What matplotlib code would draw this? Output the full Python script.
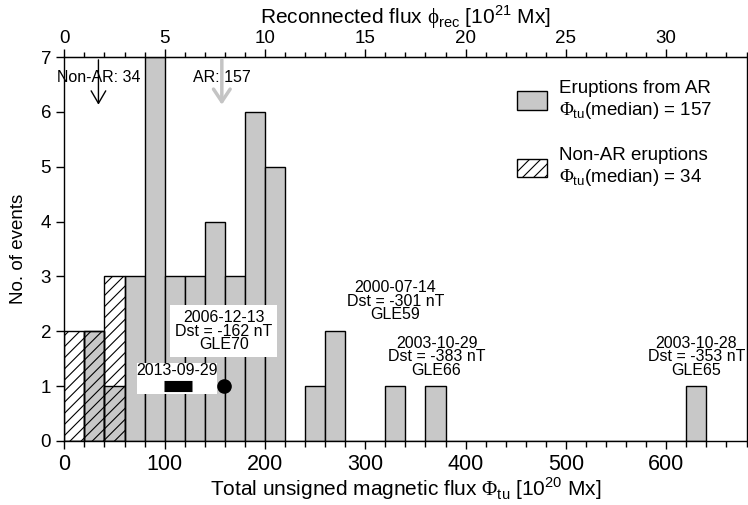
import numpy as np
import matplotlib
matplotlib.use('Agg')
import matplotlib.pyplot as plt
from matplotlib.patches import Patch, Rectangle
from matplotlib.ticker import MultipleLocator

plt.rcParams['font.family'] = ['Liberation Sans', 'DejaVu Sans']
plt.rcParams['mathtext.fontset'] = 'custom'
plt.rcParams['mathtext.rm'] = 'Liberation Serif'
plt.rcParams['mathtext.sf'] = 'Liberation Sans'
plt.rcParams['hatch.linewidth'] = 0.8

# histogram in bins of 20 x 10^20 Mx
bin_width = 20
ar_counts = [0, 2, 1, 3, 7, 3, 3, 4, 3, 6, 5, 0, 1, 2, 0, 0, 1, 0, 1, 0,
             0, 0, 0, 0, 0, 0, 0, 0, 0, 0, 0, 1]
nonar_counts = [2, 2, 3]
ar_median = 157
nonar_median = 34

# labelled events
ev_flux = [159, 330, 371, 630]
ev_text = ['2006-12-13\nDst = -162 nT\nGLE70',
           '2000-07-14\nDst = -301 nT\nGLE59',
           '2003-10-29\nDst = -383 nT\nGLE66',
           '2003-10-28\nDst = -353 nT\nGLE65']
ev_ypos = [2.0, 2.55, 1.53, 1.53]
sep2013_flux = 159
sep2013_range = [99, 127]

fig = plt.figure(figsize=(7.48, 5.05), dpi=100)
ax = fig.add_axes([0.086, 0.127, 0.912, 0.76])

ar_left = np.arange(len(ar_counts)) * bin_width
nonar_left = np.arange(len(nonar_counts)) * bin_width
ax.bar(ar_left, ar_counts, width=bin_width, align='edge', color='#c8c8c8',
       edgecolor='k', linewidth=1, zorder=2)
ax.bar(nonar_left, nonar_counts, width=bin_width, align='edge', fill=False,
       hatch='///', edgecolor='k', linewidth=1, zorder=2)

# median arrows
ax.annotate('', xy=(nonar_median, 6.08), xytext=(nonar_median, 7),
            arrowprops=dict(arrowstyle='->,head_length=0.6,head_width=0.35',
                            color='k', lw=1, mutation_scale=15), zorder=3)
ax.annotate('', xy=(ar_median, 6.08), xytext=(ar_median, 7),
            arrowprops=dict(arrowstyle='->,head_length=0.6,head_width=0.4',
                            color='#c4c4c4', lw=2.5, mutation_scale=15), zorder=3)
ax.text(nonar_median, 6.62, 'Non-AR: 34', fontsize=11.5,
        ha='center', va='center', zorder=4)
ax.text(ar_median, 6.62, 'AR: 157', fontsize=11.5,
        ha='center', va='center', zorder=4)

# event labels
ax.text(ev_flux[0], ev_ypos[0], ev_text[0], fontsize=11.5,
        ha='center', va='center', linespacing=0.88, zorder=4,
        bbox=dict(boxstyle='square,pad=0.3', fc='white', ec='none'))
for x, y, s in zip(ev_flux[1:], ev_ypos[1:], ev_text[1:]):
    ax.text(x, y, s, fontsize=11.5, ha='center', va='center',
            linespacing=0.88, zorder=4)

ax.add_patch(Rectangle((72.6, 0.86), 79.4, 0.56, fc='white', ec='none', zorder=3))
ax.text(112, 1.29, '2013-09-29', fontsize=11.5, ha='center',
        va='center', zorder=4)
ax.plot(sep2013_range, [1, 1], color='k', lw=8, solid_capstyle='butt', zorder=5)
ax.plot([sep2013_flux], [1], 'o', color='k', ms=9.5, zorder=5)

ax.set_xlim(0, 680)
ax.set_ylim(0, 7)
ax.xaxis.set_major_locator(MultipleLocator(100))
ax.xaxis.set_minor_locator(MultipleLocator(20))
ax.yaxis.set_major_locator(MultipleLocator(1))
ax.tick_params(axis='x', which='major', direction='out', length=6, width=1,
               labelsize=15.5, top=False)
ax.tick_params(axis='x', which='minor', direction='out', length=4, width=1, top=False)
ax.tick_params(axis='y', which='major', direction='out', length=6, width=1,
               labelsize=13.5, right=False)
for sp in ax.spines.values():
    sp.set_linewidth(1)

ax.set_xlabel(r'Total unsigned magnetic flux $\Phi_{\mathsf{tu}}$ [10$^{\mathsf{20}}$ Mx]',
              fontsize=15, labelpad=0)
ax.set_ylabel('No. of events', fontsize=13.5, labelpad=10)

top = ax.secondary_xaxis('top', functions=(lambda x: x / 20, lambda x: x * 20))
top.xaxis.set_major_locator(MultipleLocator(5))
top.xaxis.set_minor_locator(MultipleLocator(1))
top.tick_params(which='major', direction='out', length=6, width=1, labelsize=13.5, pad=1.5)
top.tick_params(which='minor', direction='out', length=3.5, width=1)
top.set_xlabel(r'Reconnected flux $\mathrm{\phi}_{\mathsf{rec}}$ [10$^{\mathsf{21}}$ Mx]',
               fontsize=15, labelpad=4)

handles = [Patch(facecolor='#c8c8c8', edgecolor='k', linewidth=1),
           Patch(facecolor='white', edgecolor='k', hatch='///', linewidth=1)]
labels = ['Eruptions from AR\n' + r'$\Phi_{\mathsf{tu}}$(median) = 157',
          'Non-AR eruptions\n' + r'$\Phi_{\mathsf{tu}}$(median) = 34']
ax.legend(handles, labels, loc='upper left', bbox_to_anchor=(0.653, 0.96),
          frameon=False, fontsize=13.5, handlelength=1.6, handleheight=1.15,
          handletextpad=0.6, labelspacing=1.4, borderaxespad=0)

fig.savefig('out.png', dpi=100)
